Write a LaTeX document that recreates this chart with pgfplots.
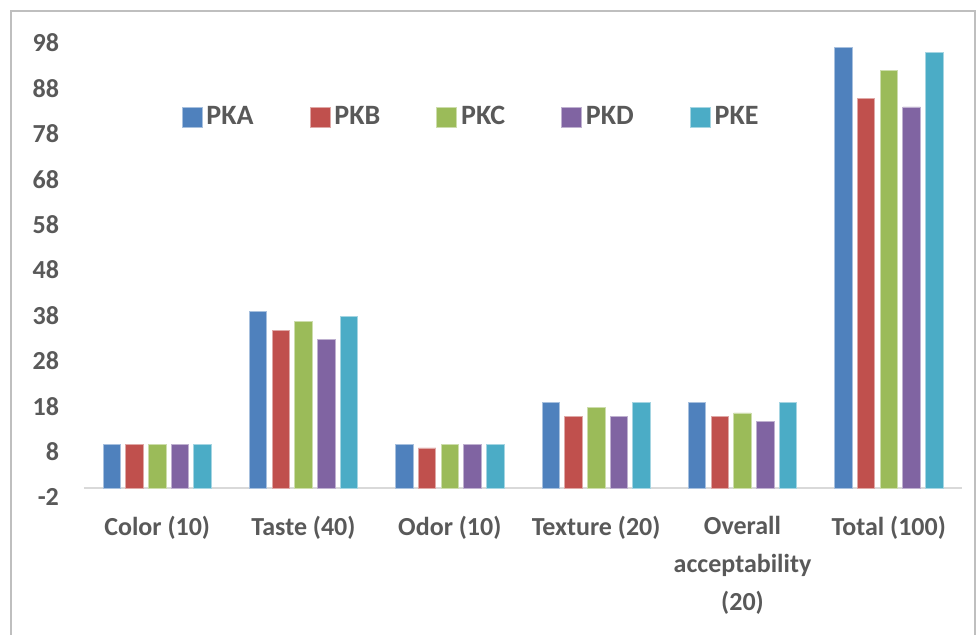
\documentclass[border=0pt]{standalone}
\usepackage{pgfplots}
\pgfplotsset{compat=1.18}
\usepackage{fontspec}
\setmainfont{Carlito}
\definecolor{ca}{HTML}{4F81BD}
\definecolor{cb}{HTML}{C0504D}
\definecolor{cc}{HTML}{9BBB59}
\definecolor{cd}{HTML}{8064A2}
\definecolor{ce}{HTML}{4BACC6}
\definecolor{txt}{HTML}{595959}
\definecolor{grid}{HTML}{D9D9D9}
\begin{document}
\begin{tikzpicture}
\begin{axis}[
  name=ax, at={(0pt,0pt)}, anchor=south west,
  scale only axis, width=439pt, height=227pt,
  xmin=-0.5, xmax=5.5, ymin=-2, ymax=98,
  ytick={-2,8,...,98},
  xtick={0,1,2,3,4,5},
  xticklabels={Color (10),Taste (40),Odor (10),Texture (20),Overall\\acceptability\\(20),Total (100)},
  ybar=2.6pt, bar width=8.75pt,
  axis line style={draw=none},
  tick style={draw=none}, major tick length=0pt,
  /pgf/number format/assume math mode=true,
  ticklabel style={font=\bfseries\fontsize{13}{19}\selectfont, text=txt},
  xticklabel style={align=center, yshift=-6pt},
  yticklabel style={xshift=-9pt},
  legend columns=5,
  legend style={at={(0.442,0.837)}, anchor=center, draw=none, fill=none,
    font=\bfseries\fontsize{14}{16}\selectfont, text=txt,
    /tikz/every even column/.append style={column sep=26pt}},
  legend image code/.code={\fill[#1] (0pt,-5pt) rectangle (10pt,5pt);},
]
\draw[grid, line width=0.8pt] (axis cs:-0.5,0) -- (axis cs:5.5,0);
\addplot[fill=ca, draw=ca!50!white, line width=0.4pt] coordinates {(0,9.6) (1,38.8) (2,9.6) (3,18.8) (4,18.8) (5,97.1)};
\addplot[fill=cb, draw=cb!50!white, line width=0.4pt] coordinates {(0,9.6) (1,34.6) (2,8.8) (3,15.8) (4,15.8) (5,85.8)};
\addplot[fill=cc, draw=cc!50!white, line width=0.4pt] coordinates {(0,9.6) (1,36.6) (2,9.6) (3,17.7) (4,16.5) (5,92.0)};
\addplot[fill=cd, draw=cd!50!white, line width=0.4pt] coordinates {(0,9.6) (1,32.7) (2,9.6) (3,15.8) (4,14.6) (5,83.9)};
\addplot[fill=ce, draw=ce!50!white, line width=0.4pt] coordinates {(0,9.6) (1,37.7) (2,9.6) (3,18.8) (4,18.8) (5,95.9)};
\legend{PKA,PKB,PKC,PKD,PKE}
\end{axis}
\pgfresetboundingbox
\path[use as bounding box] ([shift={(-42pt,-69pt)}]ax.south west) rectangle ++(488pt,317.5pt);
\draw[gray!50, line width=0.8pt] ([shift={(-36.5pt,-74pt)}]ax.south west) rectangle ++(482.1pt,317pt);
\end{tikzpicture}
\end{document}
